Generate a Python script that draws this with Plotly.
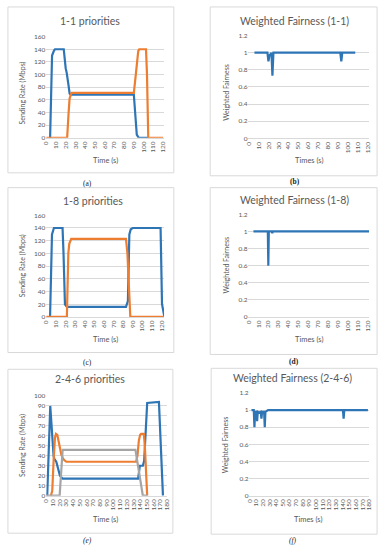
import plotly.graph_objects as go

W, H = 385, 550
BLUE = "#2E75B6"
ORANGE = "#ED7D31"
GRAY = "#A5A5A5"
TXT = "#595959"
GRID = "#D9D9D9"
FONT = "Lato"

# ---------------- data ----------------
# (a) 1-1 priorities
a_blue_t = [4, 6, 8, 9, 18, 19, 20, 21, 22, 23, 24, 25, 90, 91, 92, 93, 95, 105]
a_blue_v = [0, 130, 138, 140, 140, 122, 110, 103, 95, 82, 70, 68, 68, 50, 20, 5, 0, 0]
a_orange_t = [0, 21.5, 23, 24, 26, 90, 92, 94.5, 95.5, 102.5, 103.5, 104.8, 120]
a_orange_v = [0, 0, 40, 62, 71, 71, 100, 137, 140, 140, 100, 0, 0]

# (b) Weighted Fairness (1-1)
b_t = [6, 19, 20, 21, 22, 23, 24, 25, 92, 93, 94, 107]
b_v = [1, 1, 0.9, 0.97, 0.98, 1, 0.73, 1, 1, 0.9, 1, 1]

# (c) 1-8 priorities
c_blue_t = [4, 6, 8, 17, 18, 19.5, 21.5, 83, 85, 86.5, 88, 90, 119, 120.5, 123]
c_blue_v = [0, 130, 140, 140, 100, 20, 16, 16, 25, 130, 138, 140, 140, 20, 0]
c_orange_t = [0, 21.5, 23, 24, 26, 83, 84.5, 87.5, 122.5]
c_orange_v = [0, 0, 100, 115, 123, 123, 100, 0, 0]

# (d) Weighted Fairness (1-8)
d_t = [5, 19.5, 20, 20.5, 23.5, 24, 24.5, 121.5]
d_v = [1, 1, 0.6, 1, 1, 0.98, 1, 1]

# (e) 2-4-6 priorities
e_blue_t = [1.5, 6, 11, 12, 15, 17, 20.5, 24.5, 137, 139.5, 144, 146, 147.5, 150.5, 168, 174]
e_blue_v = [0, 90, 40, 37, 34, 28, 20, 17, 17, 30, 30, 35, 60, 93, 94, 0]
e_orange_t = [7, 9, 11, 13, 14.5, 16.5, 18, 19.5, 21, 22.5, 24.5, 27, 30, 134, 136, 138, 140, 141.5, 145.5, 147, 150.5]
e_orange_v = [0, 5, 35, 58, 62, 61, 56, 50, 45, 41, 38, 35.5, 34, 34, 40, 55, 61, 62, 62, 50, 0]
e_gray_t = [0, 20, 24.5, 133, 144, 151]
e_gray_v = [0, 0, 46, 46, 0, 0]

# (f) Weighted Fairness (2-4-6)
f_t = [3, 6.5, 7.5, 8.5, 10.5, 11.5, 12.5, 15, 17, 18, 19, 22, 23, 24, 28, 140.5, 141.5, 142.5, 178]
f_v = [1, 1, 0.8, 0.98, 0.98, 0.87, 0.98, 0.97, 0.98, 0.9, 0.98, 0.98, 0.8, 0.98, 1, 1, 0.9, 1, 1]

titles = ["1-1 priorities", "Weighted Fairness (1-1)", "1-8 priorities",
          "Weighted Fairness (1-8)", "2-4-6 priorities", "Weighted Fairness (2-4-6)"]
ytitles = ["Sending Rate (Mbps)", "Weighted Fairness"] * 3
xtitles = ["Time (s)", "Times (s)"] * 3
labels = ["(a)", "(b)", "(c)", "(d)", "(e)", "(f)"]

# ---------------- layout geometry (pixels) ----------------
panels = [
    dict(px=(43, 163), py=(33, 135.5), xr=[0, 121], yr=[0, 160], yd=20),
    dict(px=(249, 372), py=(32, 136), xr=[0, 121], yr=[0, 1.2], yd=0.2),
    dict(px=(43, 163), py=(214, 317), xr=[0, 122.6], yr=[0, 160], yd=20),
    dict(px=(249, 372), py=(213, 317), xr=[0, 121.7], yr=[0, 1.2], yd=0.2),
    dict(px=(43, 166), py=(397, 498), xr=[0, 180], yr=[0, 100], yd=10),
    dict(px=(250, 372), py=(394, 498), xr=[0, 180], yr=[0, 1.2], yd=0.2),
]
boxes = [(4, 3, 173, 171), (210, 3, 380, 174), (4, 186, 173, 353),
         (210, 186, 380, 355), (4, 370, 172, 536), (211, 369, 380, 537)]
title_pos = [(88, 17), (296, 17), (91, 200), (296, 199), (88, 380), (294, 379)]
ytitle_pos = [(19, 90), (226, 90), (19, 265), (226, 265), (19, 447), (225, 447)]
xtitle_pos = [(103, 159), (311, 159), (103, 340), (311, 340), (103, 522), (310, 522)]
label_pos = [(85, 182), (296, 180), (85, 363), (295, 362), (85, 543), (294, 543)]
label_style = [dict(), dict(b=True), dict(), dict(b=True), dict(i=True), dict(i=True)]


def X(p):
    return p / W


def Y(p):
    return 1 - p / H


series = [
    [(a_blue_t, a_blue_v, BLUE), (a_orange_t, a_orange_v, ORANGE)],
    [(b_t, b_v, BLUE)],
    [(c_blue_t, c_blue_v, BLUE), (c_orange_t, c_orange_v, ORANGE)],
    [(d_t, d_v, BLUE)],
    [(e_blue_t, e_blue_v, BLUE), (e_orange_t, e_orange_v, ORANGE), (e_gray_t, e_gray_v, GRAY)],
    [(f_t, f_v, BLUE)],
]

fig = go.Figure()
layout = dict(width=W, height=H, margin=dict(l=0, r=0, t=0, b=0),
              paper_bgcolor="white", plot_bgcolor="white", showlegend=False,
              font=dict(family=FONT, color=TXT))
annotations = []
shapes = []

for i, p in enumerate(panels):
    n = "" if i == 0 else str(i + 1)
    for t, v, col in series[i]:
        fig.add_trace(go.Scatter(x=t, y=v, mode="lines", xaxis="x" + n, yaxis="y" + n,
                                 line=dict(color=col, width=2.2), hoverinfo="skip"))
    layout["xaxis" + n] = dict(domain=[X(p["px"][0]), X(p["px"][1])], range=p["xr"],
                               anchor="y" + n, tick0=0, dtick=10, tickangle=-90,
                               tickfont=dict(size=6.5, color=TXT, family=FONT),
                               showgrid=False, zeroline=False, showline=True,
                               linecolor=GRID, linewidth=1, ticks="", fixedrange=True)
    layout["yaxis" + n] = dict(domain=[Y(p["py"][1]), Y(p["py"][0])], range=p["yr"],
                               anchor="x" + n, tick0=0, dtick=p["yd"],
                               tickfont=dict(size=6.5, color=TXT, family=FONT),
                               showgrid=True, gridcolor=GRID, gridwidth=1, zeroline=False,
                               showline=False, ticks="", fixedrange=True)
    bx = boxes[i]
    shapes.append(dict(type="rect", xref="paper", yref="paper", x0=X(bx[0]), x1=X(bx[2]),
                       y0=Y(bx[3]), y1=Y(bx[1]), line=dict(color=GRID, width=1),
                       layer="below"))
    tx, ty = title_pos[i]
    annotations.append(dict(text=titles[i], x=X(tx), y=Y(ty), xref="paper", yref="paper",
                            showarrow=False, xanchor="center", yanchor="middle",
                            font=dict(size=10.5, color=TXT, family=FONT)))
    ax, ay = ytitle_pos[i]
    annotations.append(dict(text=ytitles[i], x=X(ax), y=Y(ay), xref="paper", yref="paper",
                            showarrow=False, xanchor="center", yanchor="middle", textangle=-90,
                            font=dict(size=7, color=TXT, family=FONT)))
    ax, ay = xtitle_pos[i]
    annotations.append(dict(text=xtitles[i], x=X(ax), y=Y(ay), xref="paper", yref="paper",
                            showarrow=False, xanchor="center", yanchor="middle",
                            font=dict(size=7.5, color=TXT, family=FONT)))
    lx, ly = label_pos[i]
    txt = labels[i]
    if label_style[i].get("b"):
        txt = "<b>" + txt + "</b>"
    if label_style[i].get("i"):
        txt = "<i>" + txt + "</i>"
    annotations.append(dict(text=txt, x=X(lx), y=Y(ly), xref="paper", yref="paper",
                            showarrow=False, xanchor="center", yanchor="middle",
                            font=dict(size=7.5, color="#222222", family="Liberation Serif")))

layout["annotations"] = annotations
layout["shapes"] = shapes
fig.update_layout(**layout)
fig.write_html("out.html", config={"displayModeBar": False},
               post_script="document.body.style.margin='0';")
